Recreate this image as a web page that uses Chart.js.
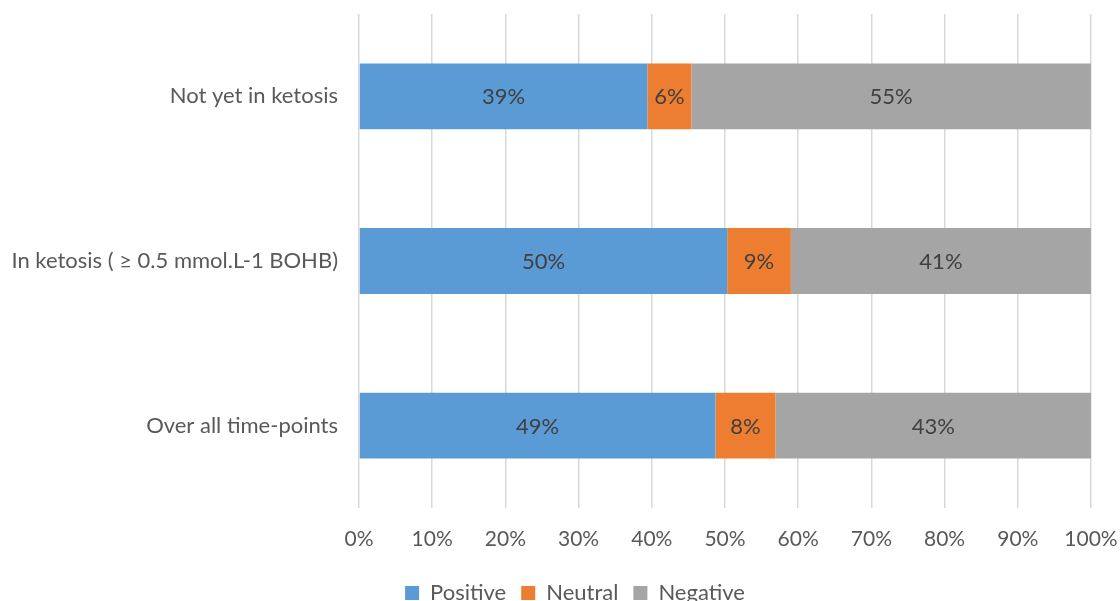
<!DOCTYPE html>
<html>
<head>
<meta charset="utf-8">
<script src="https://cdn.jsdelivr.net/npm/chart.js@4/dist/chart.umd.min.js"></script>
<style>
html,body{margin:0;padding:0;background:#fff;overflow:hidden;}
#wrap{width:1120px;height:601px;position:relative;overflow:hidden;}
</style>
</head>
<body>
<div id="wrap"><canvas id="c" width="1120" height="614"></canvas></div>
<script>
const categories = ["Not yet in ketosis", "In ketosis ( \u2265 0.5 mmol.L-1 BOHB)", "Over all time-points"];
const positive = [39.4, 50.3, 48.7];
const neutral = [6.0, 8.7, 8.2];
const negative = [54.6, 41.0, 43.1];
const seriesNames = ["Positive", "Neutral", "Negative"];
const tickValues = [0,10,20,30,40,50,60,70,80,90,100];

const FONT = "Lato, 'Open Sans', sans-serif";

const barLabels = {
  id: 'barLabels',
  afterDatasetsDraw(chart) {
    const ctx = chart.ctx;
    ctx.save();
    ctx.font = "22px " + FONT;
    ctx.fillStyle = "#404040";
    ctx.textAlign = "center";
    ctx.textBaseline = "middle";
    chart.data.datasets.forEach((ds, di) => {
      const meta = chart.getDatasetMeta(di);
      meta.data.forEach((bar, i) => {
        const v = ds.data[i];
        const x = (bar.x + bar.base) / 2;
        ctx.fillText(Math.round(v) + "%", x, bar.y + 1);
      });
    });
    ctx.restore();
  }
};

const legendShift = {
  id: 'legendShift',
  beforeDraw(chart) {
    const L = chart.legend;
    if (L) { L.left = 59; L.right = chart.chartArea.right; }
  }
};

new Chart(document.getElementById('c'), {
  type: 'bar',
  data: {
    labels: categories,
    datasets: [
      {label: seriesNames[0], data: positive, backgroundColor: '#5b9bd5'},
      {label: seriesNames[1], data: neutral, backgroundColor: '#ed7d31'},
      {label: seriesNames[2], data: negative, backgroundColor: '#a5a5a5'}
    ]
  },
  options: {
    indexAxis: 'y',
    responsive: false,
    animation: false,
    layout: {padding: {top: 14, right: 29, left: 0, bottom: 0}},
    datasets: {bar: {barPercentage: 0.8, categoryPercentage: 0.5}},
    scales: {
      x: {
        stacked: true, min: 0, max: 100,
        afterBuildTicks(s) { s.ticks = tickValues.map(v => ({value: v})); },
        ticks: {callback: v => v + '%', color: '#595959', font: {size: 21, family: FONT}, padding: 19},
        grid: {color: '#d9d9d9', lineWidth: 1.5, drawTicks: false},
        border: {display: false},
        afterFit(s) { s.height = 59; s.paddingLeft = 0; s.paddingRight = 0; }
      },
      y: {
        stacked: true,
        ticks: {color: '#595959', font: {size: 22, family: FONT}, padding: 21},
        grid: {display: false, drawTicks: false},
        border: {display: false},
        afterFit(s) { s.width = 359; s.paddingTop = 0; s.paddingBottom = 0; }
      }
    },
    plugins: {
      legend: {
        position: 'bottom',
        labels: {boxWidth: 14, boxHeight: 14, color: '#595959', font: {size: 22, family: FONT}, padding: 15}
      },
      tooltip: {enabled: false}
    }
  },
  plugins: [barLabels, legendShift]
});
</script>
</body>
</html>
